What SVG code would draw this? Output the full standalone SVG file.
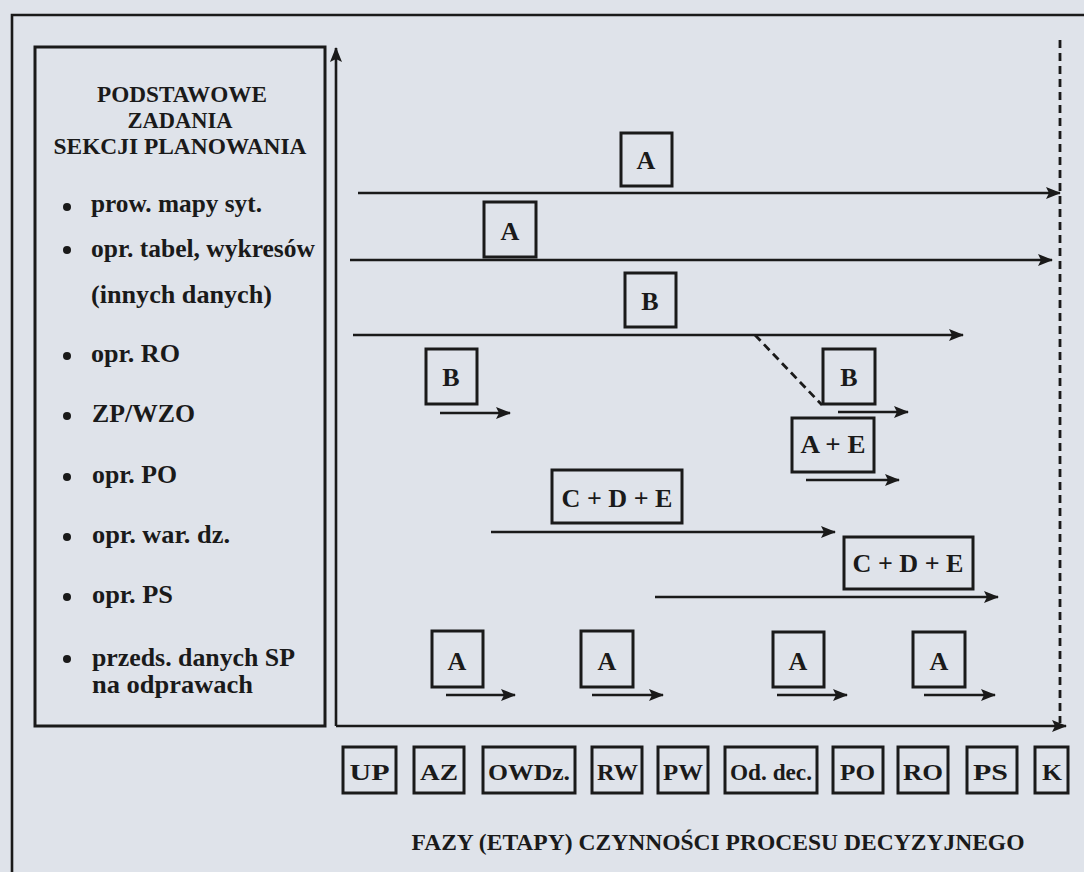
<svg xmlns="http://www.w3.org/2000/svg" width="1084" height="872" viewBox="0 0 1084 872">
<defs>
<marker id="ah" markerUnits="userSpaceOnUse" markerWidth="16" markerHeight="12" refX="14" refY="6" orient="auto">
<path d="M0,0 L15,6 L0,12 L3,6 Z" fill="#1a1a1a"/>
</marker>
</defs>
<style>
.ln{stroke:#1a1a1a;stroke-width:2.6;fill:none}
.bx{stroke:#1a1a1a;stroke-width:3;fill:none}
.t{font-family:"Liberation Serif","Times New Roman",serif;font-weight:bold;fill:#1a1a1a}
.ti{font-size:23px;text-anchor:middle}
.bl{font-size:25px}
.lb{font-size:26px;text-anchor:middle}
.ph{font-size:24px;text-anchor:middle}
.dash{stroke:#1a1a1a;stroke-width:2.8;stroke-dasharray:8 5;fill:none}
</style>
<rect x="0" y="0" width="1084" height="872" fill="#dfe3ea"/>
<path class="ln" d="M12,872 V15 H1084" stroke-width="3"/>

<g id="tasks">
<rect class="bx" x="35" y="47" width="290" height="679"/>
<text class="t ti" x="182" y="102" textLength="170" lengthAdjust="spacingAndGlyphs">PODSTAWOWE</text>
<text class="t ti" x="180" y="128" textLength="105" lengthAdjust="spacingAndGlyphs">ZADANIA</text>
<text class="t ti" x="180" y="154" textLength="253" lengthAdjust="spacingAndGlyphs">SEKCJI PLANOWANIA</text>
<g fill="#1a1a1a">
<circle cx="67" cy="207" r="4"/>
<circle cx="67" cy="250" r="4"/>
<circle cx="67" cy="356" r="4"/>
<circle cx="67" cy="416" r="4"/>
<circle cx="67" cy="477" r="4"/>
<circle cx="67" cy="537" r="4"/>
<circle cx="67" cy="597" r="4"/>
<circle cx="67" cy="659" r="4"/>
</g>
<text class="t bl" x="91" y="212" textLength="171" lengthAdjust="spacingAndGlyphs">prow. mapy syt.</text>
<text class="t bl" x="91" y="257" textLength="224" lengthAdjust="spacingAndGlyphs">opr. tabel, wykresów</text>
<text class="t bl" x="91" y="303" textLength="181" lengthAdjust="spacingAndGlyphs">(innych danych)</text>
<text class="t bl" x="91" y="362" textLength="89" lengthAdjust="spacingAndGlyphs">opr. RO</text>
<text class="t bl" x="92" y="422" textLength="103" lengthAdjust="spacingAndGlyphs">ZP/WZO</text>
<text class="t bl" x="92" y="483" textLength="85" lengthAdjust="spacingAndGlyphs">opr. PO</text>
<text class="t bl" x="92" y="543" textLength="138" lengthAdjust="spacingAndGlyphs">opr. war. dz.</text>
<text class="t bl" x="92" y="603" textLength="81" lengthAdjust="spacingAndGlyphs">opr. PS</text>
<text class="t bl" x="92" y="666" textLength="203" lengthAdjust="spacingAndGlyphs">przeds. danych SP</text>
<text class="t bl" x="92" y="693" textLength="161" lengthAdjust="spacingAndGlyphs">na odprawach</text>
</g>

<g id="connectors">
<line class="ln" x1="336" y1="726" x2="336" y2="48" marker-end="url(#ah)"/>
<line class="ln" x1="336" y1="726" x2="1066" y2="726" marker-end="url(#ah)"/>
<line class="dash" x1="1060" y1="40" x2="1060" y2="723"/>
<line class="ln" x1="358" y1="193" x2="1060" y2="193" marker-end="url(#ah)"/>
<line class="ln" x1="350" y1="260" x2="1052" y2="260" marker-end="url(#ah)"/>
<line class="ln" x1="353" y1="335" x2="963" y2="335" marker-end="url(#ah)"/>
<line class="dash" x1="755" y1="335" x2="822" y2="405"/>
<line class="ln" x1="440" y1="413" x2="510" y2="413" marker-end="url(#ah)"/>
<line class="ln" x1="838" y1="412" x2="908" y2="412" marker-end="url(#ah)"/>
<line class="ln" x1="806" y1="480" x2="899" y2="480" marker-end="url(#ah)"/>
<line class="ln" x1="491" y1="532" x2="835" y2="532" marker-end="url(#ah)"/>
<line class="ln" x1="655" y1="597" x2="998" y2="597" marker-end="url(#ah)"/>
<line class="ln" x1="446" y1="695" x2="515" y2="695" marker-end="url(#ah)"/>
<line class="ln" x1="592" y1="695" x2="663" y2="695" marker-end="url(#ah)"/>
<line class="ln" x1="777" y1="695" x2="847" y2="695" marker-end="url(#ah)"/>
<line class="ln" x1="924" y1="695" x2="995" y2="695" marker-end="url(#ah)"/>
</g>

<g id="a1"><rect class="bx" x="621" y="133" width="51" height="53"/><text class="t lb" x="646" y="169" font-size="28">A</text></g>
<g id="a2"><rect class="bx" x="484" y="202" width="52" height="55"/><text class="t lb" x="510" y="240" font-size="28">A</text></g>
<g id="b1"><rect class="bx" x="625" y="273" width="51" height="54"/><text class="t lb" x="650" y="310" font-size="23">B</text></g>
<g id="b2"><rect class="bx" x="426" y="349" width="51" height="55"/><text class="t lb" x="451" y="386" font-size="23">B</text></g>
<g id="b3"><rect class="bx" x="823" y="349" width="52" height="55"/><text class="t lb" x="849" y="386" font-size="23">B</text></g>
<g id="ae"><rect class="bx" x="792" y="418" width="82" height="54"/><text class="t lb" x="833" y="453" textLength="65" lengthAdjust="spacingAndGlyphs">A + E</text></g>
<g id="cde1"><rect class="bx" x="552" y="470" width="130" height="53"/><text class="t lb" x="617" y="507" textLength="111" lengthAdjust="spacingAndGlyphs">C + D + E</text></g>
<g id="cde2"><rect class="bx" x="844" y="537" width="129" height="52"/><text class="t lb" x="908" y="572" textLength="111" lengthAdjust="spacingAndGlyphs">C + D + E</text></g>
<g id="a3"><rect class="bx" x="432" y="631" width="51" height="56"/><text class="t lb" x="457" y="670" font-size="28">A</text></g>
<g id="a4"><rect class="bx" x="581" y="631" width="52" height="56"/><text class="t lb" x="607" y="670" font-size="28">A</text></g>
<g id="a5"><rect class="bx" x="773" y="632" width="51" height="55"/><text class="t lb" x="798" y="670" font-size="28">A</text></g>
<g id="a6"><rect class="bx" x="913" y="632" width="52" height="55"/><text class="t lb" x="939" y="670" font-size="28">A</text></g>

<g id="phases">
<g id="p-up"><rect class="bx" x="343" y="747" width="53" height="46"/><text class="t ph" x="369.5" y="780" textLength="40" lengthAdjust="spacingAndGlyphs">UP</text></g>
<g id="p-az"><rect class="bx" x="414" y="747" width="50" height="46"/><text class="t ph" x="439" y="780" textLength="38" lengthAdjust="spacingAndGlyphs">AZ</text></g>
<g id="p-owdz"><rect class="bx" x="483" y="747" width="92" height="46"/><text class="t ph" x="529" y="780" textLength="82" lengthAdjust="spacingAndGlyphs">OWDz.</text></g>
<g id="p-rw"><rect class="bx" x="592" y="747" width="50" height="46"/><text class="t ph" x="617.5" y="780" textLength="41" lengthAdjust="spacingAndGlyphs">RW</text></g>
<g id="p-pw"><rect class="bx" x="658" y="747" width="50" height="46"/><text class="t ph" x="683" y="780" textLength="40" lengthAdjust="spacingAndGlyphs">PW</text></g>
<g id="p-od"><rect class="bx" x="725" y="747" width="92" height="46"/><text class="t ph" x="771" y="780" textLength="82" lengthAdjust="spacingAndGlyphs">Od. dec.</text></g>
<g id="p-po"><rect class="bx" x="833" y="747" width="50" height="46"/><text class="t ph" x="857.5" y="780" textLength="35" lengthAdjust="spacingAndGlyphs">PO</text></g>
<g id="p-ro"><rect class="bx" x="898" y="747" width="50" height="46"/><text class="t ph" x="923" y="780" textLength="40" lengthAdjust="spacingAndGlyphs">RO</text></g>
<g id="p-ps"><rect class="bx" x="967" y="747" width="50" height="46"/><text class="t ph" x="990.5" y="780" textLength="35" lengthAdjust="spacingAndGlyphs">PS</text></g>
<g id="p-k"><rect class="bx" x="1035" y="747" width="33" height="46"/><text class="t ph" x="1052" y="780" textLength="20" lengthAdjust="spacingAndGlyphs">K</text></g>
</g>

<text class="t" x="718" y="850" font-size="23" text-anchor="middle" textLength="613" lengthAdjust="spacingAndGlyphs">FAZY (ETAPY) CZYNNOŚCI PROCESU DECYZYJNEGO</text>
</svg>
